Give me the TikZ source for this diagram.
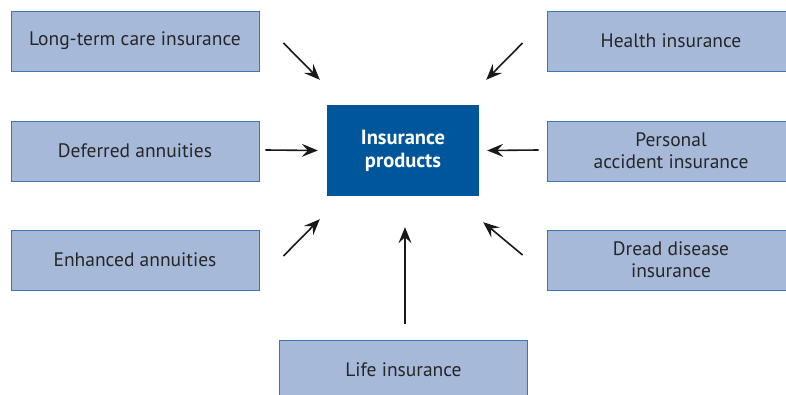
\documentclass[tikz,border=0pt]{standalone}
\usepackage{fontspec}
\setmainfont{PT Sans}
\usetikzlibrary{arrows.meta,calc,positioning}
\definecolor{boxfill}{HTML}{A7B9D9}
\definecolor{boxline}{HTML}{3D74B4}
\definecolor{prodblue}{HTML}{00569B}
\tikzstyle{kind}=[
  draw=boxline,
  fill=boxfill,
  line width=0.9pt,
  minimum width=248pt,
  minimum height=60pt,
  align=center,
  text=black!85,
  font=\fontsize{19.5}{22}\selectfont,
]
\tikzstyle{prod}=[
  fill=prodblue,
  minimum width=152pt,
  minimum height=91pt,
  align=center,
  text=white,
  font=\fontsize{20.5}{23}\selectfont\bfseries,
]
\tikzstyle{feed}=[
  draw=black!90,
  line width=1.6pt,
  -{Stealth[length=16pt,width=13pt,inset=6pt]},
]

\begin{document}
\begin{tikzpicture}[x=1pt,y=-1pt]
  \useasboundingbox (0,0) rectangle (786,395);
  % the product in the middle
  \node[prod] (prod) at (403,150.5) {Insurance\\products};
  % kinds of insurance round it
  \node[kind] (ltc) at (135,41) {Long-term care insurance};
  \node[kind] (def) at (135,151) {Deferred annuities};
  \node[kind] (enh) at (135,260) {Enhanced annuities};
  \node[kind] (hlth) at (671,41) {Health insurance};
  \node[kind] (pai) at (671,151) {Personal\\accident insurance};
  \node[kind] (dread) at (671,260) {Dread disease\\insurance};
  \node[kind] (life) at (403.5,370) {Life insurance};
  % arrows point inward
  \draw[feed] ($(ltc.east)+(24,2)$) -- ($(prod.north west)+(-7,-25)$);
  \draw[feed] ($(def.east)+(6,-1)$) -- ($(prod.west)+(-9,0)$);
  \draw[feed] ($(enh.east)+(24,-4)$) -- ($(prod.south west)+(-7,23)$);
  \draw[feed] ($(life.north)+(1.5,-16)$) -- ($(prod.south)+(2,31)$);
  \draw[feed] ($(dread.west)+(-24,-5)$) -- ($(prod.south east)+(4,26)$);
  \draw[feed] ($(pai.west)+(-8,-1)$) -- ($(prod.east)+(8,0)$);
  \draw[feed] ($(hlth.west)+(-24,2)$) -- ($(prod.north east)+(7,-25)$);
\end{tikzpicture}
\end{document}
